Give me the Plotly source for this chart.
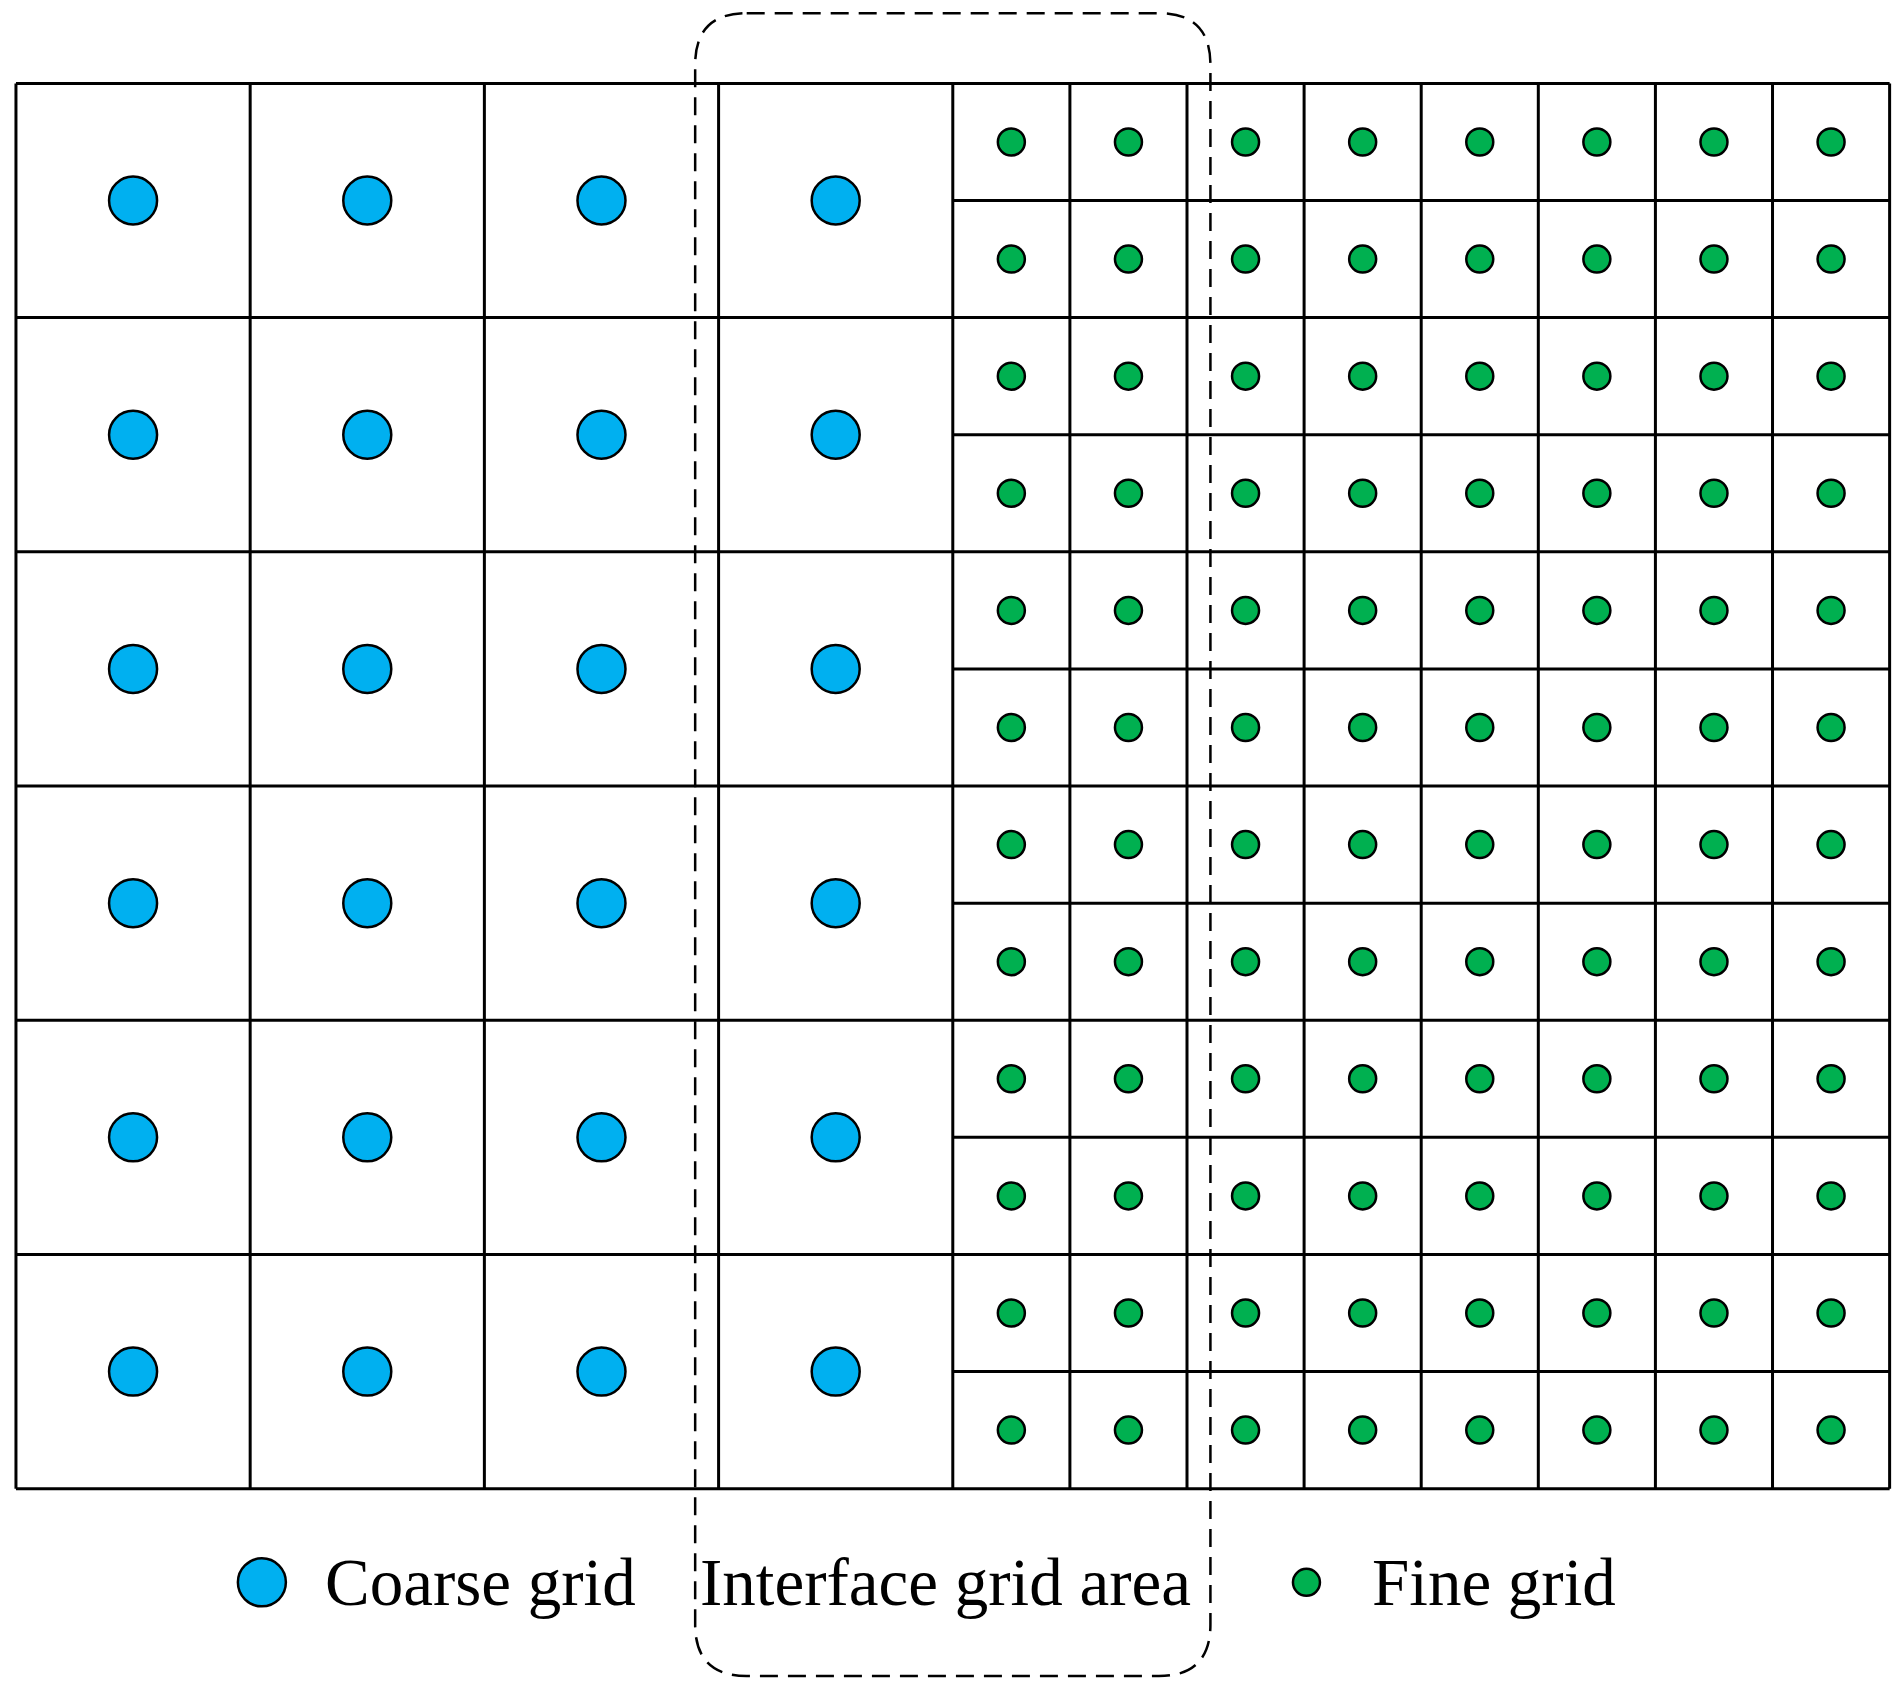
import plotly.graph_objects as go
import numpy as np

coarse_cols = [0, 1, 2, 3]          # coarse cell left edges (x units)
coarse_rows = [0, 1, 2, 3, 4, 5]    # coarse cell bottom edges
fine_cols = [4 + 0.5 * i for i in range(8)]
fine_rows = [0.5 * j for j in range(12)]
interface_box = dict(x0=2.9, x1=5.1, y0=-0.8, y1=6.3, r=0.22)
legend_labels = ["Coarse grid", "Interface grid area", "Fine grid"]

BLUE = "#00B0F0"
GREEN = "#00B050"

fig = go.Figure()

# grid lines
lx, ly = [], []
for x in [0, 1, 2, 3, 4] + fine_cols[1:] + [8]:
    lx += [x, x, None]; ly += [0, 6, None]
for y in coarse_rows + [6]:
    lx += [0, 8, None]; ly += [y, y, None]
for y in fine_rows[1::2]:
    lx += [4, 8, None]; ly += [y, y, None]
fig.add_trace(go.Scatter(x=lx, y=ly, mode="lines", line=dict(color="black", width=3),
                         hoverinfo="skip", showlegend=False))

cx = [c + 0.5 for c in coarse_cols for r in coarse_rows]
cy = [r + 0.5 for c in coarse_cols for r in coarse_rows]
fig.add_trace(go.Scatter(x=cx, y=cy, mode="markers", showlegend=False,
                         marker=dict(size=48, color=BLUE, line=dict(color="black", width=2.5))))
fx = [c + 0.25 for c in fine_cols for r in fine_rows]
fy = [r + 0.25 for c in fine_cols for r in fine_rows]
fig.add_trace(go.Scatter(x=fx, y=fy, mode="markers", showlegend=False,
                         marker=dict(size=27, color=GREEN, line=dict(color="black", width=2.5))))

# dashed rounded box
b = interface_box
x0, x1, y0, y1, r = b["x0"], b["x1"], b["y0"], b["y1"], b["r"]
path = (f"M {x0+r},{y1} L {x1-r},{y1} Q {x1},{y1} {x1},{y1-r} L {x1},{y0+r} "
        f"Q {x1},{y0} {x1-r},{y0} L {x0+r},{y0} Q {x0},{y0} {x0},{y0+r} "
        f"L {x0},{y1-r} Q {x0},{y1} {x0+r},{y1} Z")
fig.add_shape(type="path", path=path, line=dict(color="black", width=2.5, dash="18px,10px"))

# legend
fig.add_trace(go.Scatter(x=[1.05], y=[-0.4], mode="markers", showlegend=False,
                         marker=dict(size=48, color=BLUE, line=dict(color="black", width=2.5))))
fig.add_trace(go.Scatter(x=[5.51], y=[-0.4], mode="markers", showlegend=False,
                         marker=dict(size=27, color=GREEN, line=dict(color="black", width=2.5))))
font = dict(family="Liberation Serif", size=67, color="black")
fig.add_annotation(x=1.31, y=-0.4, text=legend_labels[0], showarrow=False, xanchor="left", font=font)
fig.add_annotation(x=3.97, y=-0.4, text=legend_labels[1], showarrow=False, xanchor="center", font=font)
fig.add_annotation(x=5.78, y=-0.4, text=legend_labels[2], showarrow=False, xanchor="left", font=font)

fig.update_layout(width=1902, height=1687, margin=dict(l=0, r=0, t=0, b=0),
                  plot_bgcolor="white", paper_bgcolor="white")
fig.update_xaxes(range=[-0.034, 8.087], visible=False)
fig.update_yaxes(range=[-0.881, 6.322], visible=False)
fig.write_html("out.html")
